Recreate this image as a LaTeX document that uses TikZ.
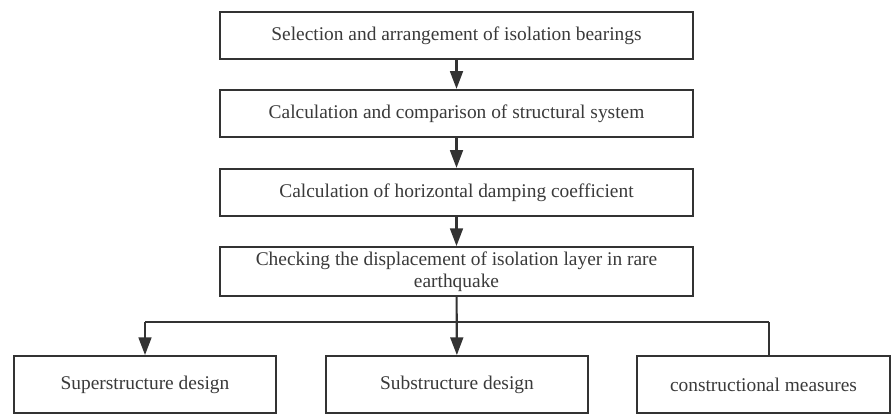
\documentclass[tikz,border=0pt]{standalone}
\usepackage{fontspec}
\setmainfont{Liberation Serif}
\usepackage{tikz}
\usetikzlibrary{arrows.meta}

\definecolor{framegray}{HTML}{333333}
\definecolor{textgray}{HTML}{3A3A3A}

\tikzset{
	stagebox/.style={draw=framegray, line width=1.5pt, fill=white, text=textgray, align=center,
		inner sep=1pt, minimum width=11.8cm, minimum height=1.18cm, font=\fontsize{13.8}{15.5}\selectfont},
	leafbox/.style={stagebox, minimum width=6.55cm, minimum height=1.42cm},
	flow/.style={draw=framegray, line width=1.5pt, -{Triangle[length=4.4mm, width=3.2mm]}},
	branch/.style={draw=framegray, line width=1.5pt}
}

\begin{document}
\begin{tikzpicture}[x=0.025cm, y=-0.025cm]
	\useasboundingbox (0,0) rectangle (892,414);
	%\draw[help lines] (0,0) grid[step=50] (892,414);
	\node[stagebox] (select) at (456.5,35.5) {Selection and arrangement of isolation bearings};
	\node[stagebox] (compare) at (456.5,113.5) {Calculation and comparison of structural system};
	\node[stagebox] (damping) at (456.5,192.5) {Calculation of horizontal damping coefficient};
	\node[stagebox, minimum height=1.22cm] (check) at (456.5,271.5) {Checking the displacement of isolation layer in rare\\earthquake};
	\node[leafbox] (super) at (145,384.5) {Superstructure design};
	\node[leafbox] (sub) at (457,384.5) {Substructure design};
	\node[leafbox, minimum width=6.33cm] (measures) at (763.5,384.5) {constructional measures};
	\coordinate (splitL) at (145,322);
	\coordinate (splitR) at (769,322);
	\draw[flow] (select) -- (compare);
	\draw[flow] (compare) -- (damping);
	\draw[flow] (damping) -- (check);
	\draw[flow] (check) -- (sub);
	\draw[branch] (splitR) -- (splitL);
	\draw[flow] (splitL) -- (super);
	\draw[branch] (splitR) -- (splitR |- measures.north);
\end{tikzpicture}
\end{document}
